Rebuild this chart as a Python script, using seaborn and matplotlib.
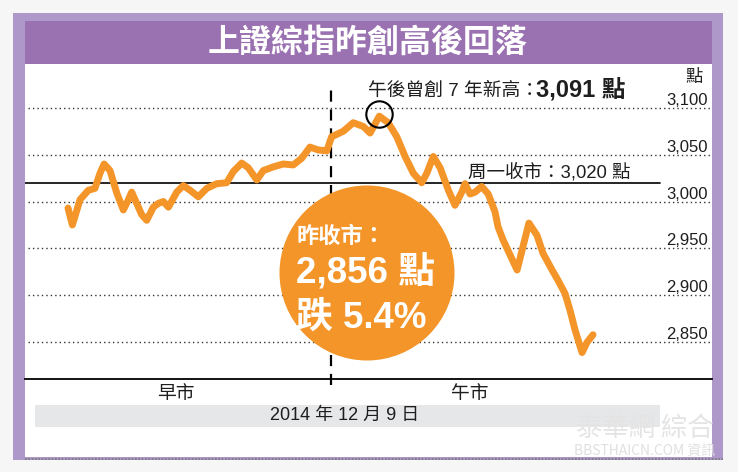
import matplotlib
matplotlib.use("Agg")
import matplotlib.pyplot as plt
import matplotlib.transforms as mtransforms
from matplotlib.patches import Rectangle, Circle
from matplotlib.lines import Line2D
import pandas as pd
import seaborn as sns

# ---------------- data ----------------
# trading minutes since 9:30 open (0-120 morning, 120-240 afternoon)
minutes = [0, 2, 5.5, 9.3, 12.3, 14.6, 16.5, 19.2, 22.3, 25.3, 27.6, 29.1, 31.4,
           33.7, 36.0, 39.0, 41.3, 43.6, 45.9, 49.7, 52.7, 55.8, 59.6, 63.4,
           68.0, 72.5, 75.6, 79.4, 82.4, 86.3, 89.3, 93.9, 98.4, 103.0, 106.8,
           110.6, 114.4, 118.3, 120.5, 125.9, 130.4, 135.0, 138.1, 142.3,
           146.4, 150.3, 154.1, 157.9, 161.7, 164.0, 167.0, 170.1, 173.9,
           176.9, 180.0, 181.5, 183.8, 186.1, 189.1, 192.1, 195.2, 196.6,
           198.9, 202.1, 205.3, 208.0, 210.7, 214.4, 217.1, 221.3, 224.0,
           227.2, 229.5, 231.8, 235.0, 237.3, 240]
index_values = [2993, 2975, 3002, 3012, 3014, 3030, 3040, 3033, 3009, 2991, 3002,
                3010, 2998, 2986, 2980, 2994, 2998, 3000, 2994, 3010, 3017, 3012,
                3005, 3014, 3019, 3020, 3032, 3041, 3036, 3023, 3033, 3037, 3040,
                3039, 3046, 3058, 3055, 3054, 3069, 3075, 3084, 3080, 3073, 3091,
                3084, 3069, 3048, 3030, 3020, 3030, 3048, 3036, 3012, 2996, 3010,
                3019, 3008, 3010, 3016, 3008, 2989, 2973, 2959, 2943, 2927, 2952,
                2977, 2964, 2945, 2927, 2916, 2902, 2884, 2863, 2839, 2850, 2858]
ytick_values = [2850, 2900, 2950, 3000, 3050, 3100]
ytick_labels = ["2,850", "2,900", "2,950", "3,000", "3,050", "3,100"]
session_labels = ["早市", "午市"]
lunch_break_minute = 120
monday_close = 3020
high_value = 3091
close_value = 2856
close_change_pct = 5.4
title = "上證綜指昨創高後回落"
date_label = "2014 年 12 月 9 日"

ORANGE = "#f4952a"
OUTER = "#ae98c9"
BAND = "#9b72b1"
INK = "#1e1e1e"

sns.set_theme(style="white")
plt.rcParams["font.family"] = ["Liberation Sans", "Noto Sans CJK TC", "DejaVu Sans"]

W, H = 738, 472
fig = plt.figure(figsize=(W / 100, H / 100), dpi=100)
fig.patch.set_facecolor("#f6f6f6")

# ---------------- background frame ----------------
bg = fig.add_axes([0, 0, 1, 1], zorder=0)
bg.set_xlim(0, W)
bg.set_ylim(H, 0)
bg.axis("off")
bg.add_patch(Rectangle((13, 13), 710, 447, color=OUTER, lw=0))
bg.add_patch(Rectangle((25, 21), 687, 43, color=BAND, lw=0))
bg.add_patch(Rectangle((25, 64), 687, 393, color="white", lw=0))
bg.add_patch(Rectangle((35, 405), 625, 22, color="#e6e7e9", lw=0))
bg.add_line(Line2D([25, 723], [458.5, 458.5], color="#777777", lw=1.2, ls=(0, (1, 1))))
bg.text(368, 43, title, color="white", fontsize=23, fontweight="bold",
        ha="center", va="center", family=["Noto Sans CJK TC"])

# ---------------- data axes ----------------
ax = fig.add_axes([25 / W, 1 - 379 / H, 687 / W, 315 / H], zorder=1)
ax.patch.set_alpha(0)
df = pd.DataFrame({"minute": minutes, "index": index_values})

for v in ytick_values:
    ax.axhline(v, xmin=0.005, xmax=1, color="#333333", lw=1.0, ls=(0, (1, 2.2)), zorder=1)
ax.axhline(monday_close, xmin=0, xmax=0.924, color="black", lw=1.2, zorder=1)
ax.axvline(lunch_break_minute, ymin=-0.02, ymax=0.917, color="black", lw=1.6,
           ls=(0, (5, 3.5)), clip_on=False, zorder=2)

sns.lineplot(data=df, x="minute", y="index", ax=ax, color=ORANGE, lw=5.0,
             solid_capstyle="round", solid_joinstyle="round", zorder=3)

peak = df.loc[df["index"].idxmax()]
ax.plot([peak["minute"]], [peak["index"] + 2], marker="o", ms=19, mfc="none",
        mec="black", mew=1.5, zorder=4)

ax.set_xlim(-19.66, 294.4)
ax.set_ylim(2810.8, 3146.6)
ax.set_xticks([])
ax.set_yticks([])
ax.set_xlabel("")
ax.set_ylabel("")
for s in ["top", "left", "right"]:
    ax.spines[s].set_visible(False)
ax.spines["bottom"].set_color("black")
ax.spines["bottom"].set_linewidth(1.3)

lab_tr = mtransforms.offset_copy(ax.get_yaxis_transform(), fig=fig, x=0, y=3, units="dots")
for v, lab in zip(ytick_values, ytick_labels):
    ax.text(0.994, v, lab, transform=lab_tr, ha="right", va="baseline",
            fontsize=12, color=INK)

# ---------------- front overlay ----------------
fr = fig.add_axes([0, 0, 1, 1], zorder=3)
fr.set_xlim(0, W)
fr.set_ylim(H, 0)
fr.axis("off")
fr.patch.set_alpha(0)

fr.text(703, 82, "點", ha="right", va="baseline", fontsize=12.5, color=INK)
fr.text(368, 96, "午後曾創 7 年新高：", ha="left", va="baseline", fontsize=13.5, color=INK)
fr.text(536, 96, f"{high_value:,} 點", ha="left", va="baseline", fontsize=17,
        fontweight="bold", color=INK)
fr.text(468, 177, f"周一收市：{monday_close:,} 點", ha="left", va="baseline",
        fontsize=13.3, color=INK)

fr.add_patch(Circle((367, 273), 87.5, color=ORANGE, lw=0))
fr.text(297, 243, "昨收市：", ha="left", va="baseline", fontsize=16,
        fontweight="bold", color="white")
fr.text(296, 283, f"{close_value:,} 點", ha="left", va="baseline", fontsize=26.5,
        fontweight="bold", color="white")
fr.text(296, 328, f"跌 {close_change_pct}%", ha="left", va="baseline", fontsize=26.5,
        fontweight="bold", color="white")

fr.text(176, 394, session_labels[0], ha="center", va="center", fontsize=13.5, color=INK)
fr.text(470, 394, session_labels[1], ha="center", va="center", fontsize=13.5, color=INK)
fr.text(345, 415, date_label, ha="center", va="center", fontsize=13, color=INK)

# faint watermark
fr.text(645, 428, "泰華網 綜合", ha="center", va="center", fontsize=19, color="#e4e4e4",
        family=["Noto Sans CJK TC"])
fr.text(645, 452, "BBSTHAICN.COM 資訊", ha="center", va="center", fontsize=10,
        color="#e0e0e0", family=["Noto Sans CJK TC"])

fig.savefig("out.png", dpi=100, facecolor=fig.get_facecolor())
